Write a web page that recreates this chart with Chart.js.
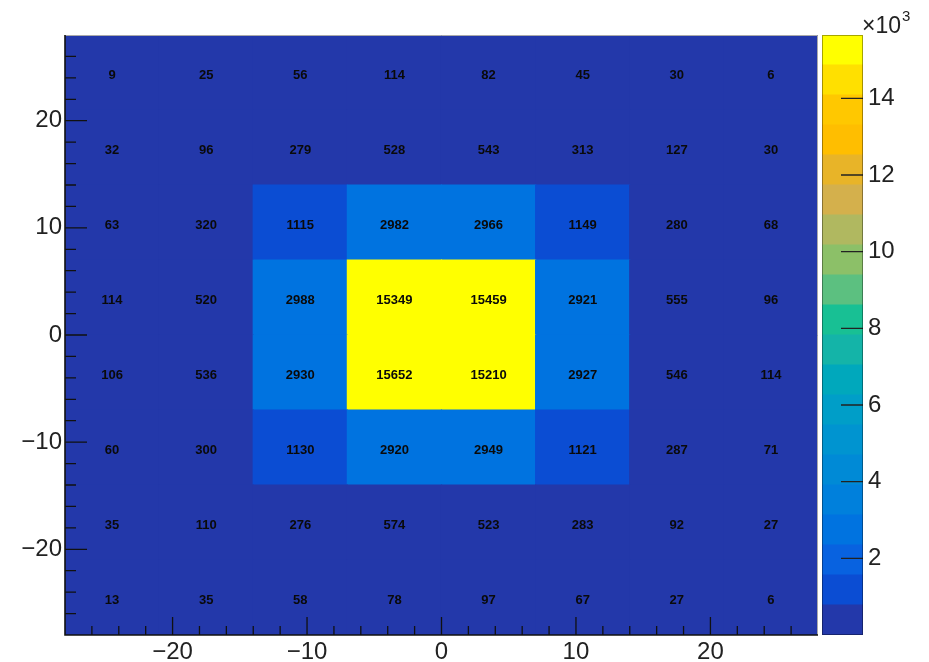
<!DOCTYPE html>
<html>
<head>
<meta charset="utf-8">
<title>2D histogram</title>
<script src="https://cdn.jsdelivr.net/npm/chart.js@4.4.1/dist/chart.umd.min.js"></script>
<style>
  html, body { margin: 0; padding: 0; background: #fff; }
  #wrap { position: relative; width: 929px; height: 662px; overflow: hidden; }
  #main { position: absolute; left: 0; top: 0; }
  #zbar { position: absolute; left: 800px; top: 0; }
</style>
</head>
<body>
<div id="wrap">
  <canvas id="main" width="929" height="662"></canvas>
  <canvas id="zbar" width="129" height="662"></canvas>
</div>
<script>
'use strict'

//data
// bin edges, same binning on both axes
const xEdges = [-28, -21, -14, -7, 0, 7, 14, 21, 28];
const yEdges = [-28, -21, -14, -7, 0, 7, 14, 21, 28];

// bin contents, one array per row, bottom row first
const rowY1 = [13, 35, 58, 78, 97, 67, 27, 6];
const rowY2 = [35, 110, 276, 574, 523, 283, 92, 27];
const rowY3 = [60, 300, 1130, 2920, 2949, 1121, 287, 71];
const rowY4 = [106, 536, 2930, 15652, 15210, 2927, 546, 114];
const rowY5 = [114, 520, 2988, 15349, 15459, 2921, 555, 96];
const rowY6 = [63, 320, 1115, 2982, 2966, 1149, 280, 68];
const rowY7 = [32, 96, 279, 528, 543, 313, 127, 30];
const rowY8 = [9, 25, 56, 114, 82, 45, 30, 6];
const rows = [rowY1, rowY2, rowY3, rowY4, rowY5, rowY6, rowY7, rowY8];

// axis ticks
const xTicks = [-20, -10, 0, 10, 20];
const yTicks = [-20, -10, 0, 10, 20];
const zTicks = [2000, 4000, 6000, 8000, 10000, 12000, 14000];
const zTickLabels = ['2', '4', '6', '8', '10', '12', '14'];

// palette, 20 contour bands from 0 to the max, lowest first
const bandColors = [
  '#2338aa', '#0b4dd3', '#0862e0', '#0073e0', '#0080dc',
  '#008ad6', '#0094d0', '#009ec8', '#00a8bc', '#14b4a8',
  '#18c094', '#5cc080', '#8cc068', '#b0b860', '#d4b04c',
  '#e8b428', '#ffbe00', '#ffc800', '#ffe000', '#ffff00'
];

const FONT = "'Liberation Sans', Arial, Helvetica, sans-serif";
const zMax = Math.max(...rows.flat());
const nBands = bandColors.length;

function colorFor(v) {
  let i = Math.floor(v / zMax * nBands);
  if (i > nBands - 1) i = nBands - 1;
  return bandColors[i];
}

// root style labels use a real minus sign
function fmt(v) {
  return v < 0 ? '\u2212' + Math.abs(v) : String(v);
}

//datasets - one per row of bins, floating bars
let datasets = rows.map(function (vals, r) {
  return {
    data: vals.map(function (v, c) {
      return { x: (xEdges[c] + xEdges[c + 1]) / 2, y: [yEdges[r], yEdges[r + 1]], v: v };
    }),
    backgroundColor: vals.map(colorFor),
    borderWidth: 0,
    grouped: false,
    barPercentage: 1,
    categoryPercentage: 1,
    inflateAmount: 0.6
  };
});

// plugin: background, bin labels, inside ticks and frame
const heatDecor = {
  id: 'heatDecor',
  beforeDatasetsDraw(chart) {
    const { ctx, chartArea: a } = chart;
    ctx.save();
    ctx.fillStyle = bandColors[0];
    ctx.fillRect(a.left, a.top, a.right - a.left, a.bottom - a.top);
    ctx.restore();
  },
  afterDatasetsDraw(chart) {
    const { ctx, chartArea: a, scales } = chart;
    ctx.save();
    ctx.font = 'bold 13px ' + FONT;
    ctx.fillStyle = '#0a0a0a';
    ctx.textAlign = 'center';
    ctx.textBaseline = 'middle';
    chart.data.datasets.forEach(function (ds, i) {
      chart.getDatasetMeta(i).data.forEach(function (bar, j) {
        const p = bar.getProps(['x', 'y', 'base'], true);
        ctx.fillText(String(ds.data[j].v), p.x, (p.y + p.base) / 2 + 3);
      });
    });

    ctx.strokeStyle = '#111';
    ctx.lineWidth = 1.3;
    ctx.beginPath();
    for (let v = -26; v <= 26; v += 2) {
      const px = scales.x.getPixelForValue(v);
      const py = scales.y.getPixelForValue(v);
      const lx = xTicks.includes(v) ? 18 : 9;
      const ly = yTicks.includes(v) ? 22 : 11;
      ctx.moveTo(px, a.bottom);
      ctx.lineTo(px, a.bottom - lx);
      ctx.moveTo(a.left, py);
      ctx.lineTo(a.left + ly, py);
    }
    ctx.stroke();

    // frame
    ctx.strokeStyle = '#aaa';
    ctx.lineWidth = 1;
    ctx.beginPath();
    ctx.moveTo(a.left, a.top + 0.5);
    ctx.lineTo(a.right - 0.5, a.top + 0.5);
    ctx.lineTo(a.right - 0.5, a.bottom);
    ctx.stroke();
    ctx.strokeStyle = '#111';
    ctx.lineWidth = 1.6;
    ctx.beginPath();
    ctx.moveTo(a.left, a.top);
    ctx.lineTo(a.left, a.bottom);
    ctx.lineTo(a.right, a.bottom);
    ctx.stroke();
    ctx.restore();
  }
};

const mainChart = new Chart(document.getElementById('main'), {
  type: 'bar',
  data: { datasets: datasets },
  options: {
    responsive: false,
    animation: false,
    events: [],
    layout: { padding: { left: 0, top: 35, right: 111, bottom: 0 } },
    plugins: { legend: { display: false }, tooltip: { enabled: false } },
    scales: {
      x: {
        type: 'linear',
        min: -28,
        max: 28,
        offset: false,
        grid: { display: false, drawTicks: false, tickLength: 0 },
        border: { display: false },
        afterBuildTicks: function (s) { s.ticks = xTicks.map(v => ({ value: v })); },
        afterFit: function (s) { s.height = 27; },
        ticks: {
          padding: 3, color: '#222', autoSkip: false, maxRotation: 0,
          font: { family: FONT, size: 24 },
          callback: fmt
        }
      },
      y: {
        type: 'linear',
        min: -28,
        max: 28,
        grid: { display: false, drawTicks: false, tickLength: 0 },
        border: { display: false },
        afterBuildTicks: function (s) { s.ticks = yTicks.map(v => ({ value: v })); },
        afterFit: function (s) { s.width = 65; },
        ticks: {
          padding: 3, color: '#222', autoSkip: false,
          font: { family: FONT, size: 24 },
          callback: fmt
        }
      }
    }
  },
  plugins: [heatDecor]
});

// color bar
const barDecor = {
  id: 'barDecor',
  afterDatasetsDraw(chart) {
    const { ctx, chartArea: a, scales } = chart;
    ctx.save();
    ctx.strokeStyle = '#222';
    ctx.lineWidth = 1.3;
    ctx.beginPath();
    zTicks.forEach(function (v) {
      const py = scales.y.getPixelForValue(v);
      ctx.moveTo(a.right, py);
      ctx.lineTo(a.right - 22, py);
    });
    ctx.stroke();
    ctx.strokeStyle = 'rgba(0,0,0,0.35)';
    ctx.lineWidth = 1;
    ctx.strokeRect(a.left + 0.5, a.top + 0.5, a.right - a.left - 1, a.bottom - a.top - 1);

    // x10^3 exponent
    ctx.fillStyle = '#222';
    ctx.textAlign = 'left';
    ctx.textBaseline = 'alphabetic';
    ctx.font = '23px ' + FONT;
    ctx.fillText('\u00d710', a.right - 1, 33);
    const w = ctx.measureText('\u00d710').width;
    ctx.font = '15px ' + FONT;
    ctx.fillText('3', a.right - 1 + w + 1, 21);
    ctx.restore();
  }
};

const zChart = new Chart(document.getElementById('zbar'), {
  type: 'bar',
  data: {
    labels: [''],
    datasets: bandColors.map(function (c) {
      return {
        data: [zMax / nBands],
        backgroundColor: c,
        borderWidth: 0,
        barPercentage: 1,
        categoryPercentage: 1,
        inflateAmount: 0.4
      };
    })
  },
  options: {
    responsive: false,
    animation: false,
    events: [],
    layout: { padding: { left: 22, top: 35, right: 0, bottom: 27 } },
    plugins: { legend: { display: false }, tooltip: { enabled: false } },
    scales: {
      x: { display: false, stacked: true },
      y: {
        stacked: true,
        position: 'right',
        min: 0,
        max: zMax,
        grid: { display: false, drawTicks: false, tickLength: 0 },
        border: { display: false },
        afterBuildTicks: function (s) { s.ticks = zTicks.map(v => ({ value: v })); },
        afterFit: function (s) { s.width = 66; },
        ticks: {
          padding: 5, color: '#222', autoSkip: false,
          font: { family: FONT, size: 24 },
          callback: function (v) { return zTickLabels[zTicks.indexOf(v)]; }
        }
      }
    }
  },
  plugins: [barDecor]
});
</script>
</body>
</html>
